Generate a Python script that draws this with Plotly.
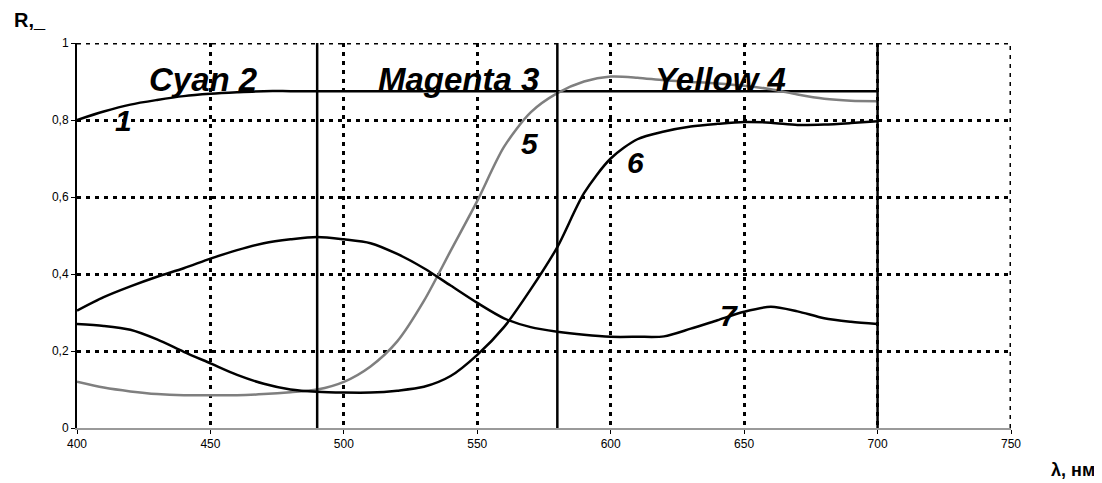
import plotly.graph_objects as go

wavelength = [400, 410, 420, 430, 440, 450, 460, 470, 480, 490, 500, 510, 520, 530, 540,
              550, 560, 570, 580, 590, 600, 610, 620, 630, 640, 650, 660, 670, 680, 690, 700]

curve1 = [0.800, 0.822, 0.840, 0.852, 0.862, 0.868, 0.872, 0.875, 0.875, 0.875, 0.875, 0.875,
          0.875, 0.875, 0.875, 0.875, 0.875, 0.875, 0.875, 0.875, 0.875, 0.875, 0.875, 0.875,
          0.875, 0.875, 0.875, 0.875, 0.875, 0.875, 0.875]
curve5 = [0.120, 0.105, 0.095, 0.088, 0.085, 0.085, 0.085, 0.088, 0.093, 0.100, 0.120, 0.160,
          0.225, 0.330, 0.460, 0.590, 0.730, 0.820, 0.870, 0.900, 0.913, 0.910, 0.903, 0.899,
          0.895, 0.889, 0.880, 0.866, 0.855, 0.850, 0.849]
curve6 = [0.270, 0.265, 0.255, 0.230, 0.198, 0.168, 0.138, 0.115, 0.100, 0.094, 0.092, 0.092,
          0.097, 0.107, 0.135, 0.190, 0.262, 0.360, 0.470, 0.610, 0.700, 0.750, 0.770, 0.783,
          0.790, 0.795, 0.793, 0.787, 0.788, 0.792, 0.797]
curve7 = [0.305, 0.340, 0.368, 0.393, 0.415, 0.440, 0.462, 0.480, 0.490, 0.496, 0.490, 0.480,
          0.452, 0.415, 0.370, 0.325, 0.285, 0.262, 0.250, 0.242, 0.237, 0.237, 0.238, 0.258,
          0.280, 0.302, 0.315, 0.303, 0.285, 0.276, 0.270]

band_edges = [490, 580, 700]
band_labels = ["Cyan 2", "Magenta 3", "Yellow 4"]
curve_labels = ["1", "5", "6", "7"]

x_ticks = [400, 450, 500, 550, 600, 650, 700, 750]
y_ticks = [0, 0.2, 0.4, 0.6, 0.8, 1.0]
y_tick_text = ["0", "0,2", "0,4", "0,6", "0,8", "1"]

FONT = "Liberation Sans, Arial, sans-serif"
GRID_DASH = "4px,5px"

fig = go.Figure()

# dotted grid lines on the outer edges (top and right), which plotly omits at range edges
fig.add_shape(type="line", x0=x_ticks[0], x1=x_ticks[-1], y0=y_ticks[-1], y1=y_ticks[-1],
              xref="x", yref="y", line=dict(color="black", width=3, dash=GRID_DASH), layer="below")
fig.add_shape(type="line", x0=x_ticks[-1], x1=x_ticks[-1], y0=y_ticks[0], y1=y_ticks[-1],
              xref="x", yref="y", line=dict(color="black", width=3, dash=GRID_DASH), layer="below")

series = [(curve1, "black"), (curve5, "#7f7f7f"), (curve6, "black"), (curve7, "black")]
for vals, col in series:
    fig.add_trace(go.Scatter(x=wavelength, y=vals, mode="lines",
                             line=dict(color=col, width=2.5, shape="spline", smoothing=0.8),
                             showlegend=False, hoverinfo="skip", cliponaxis=False))

for xe in band_edges:
    fig.add_shape(type="line", x0=xe, x1=xe, y0=0, y1=1, xref="x", yref="y",
                  line=dict(color="black", width=2.5), layer="above")

band_pos = [(447.5, 0.905), (543, 0.905), (641, 0.905)]
for (px, py), t in zip(band_pos, band_labels):
    fig.add_annotation(x=px, y=py, text="<b><i>%s</i></b>" % t, showarrow=False,
                       font=dict(family=FONT, size=33, color="black"),
                       xanchor="center", yanchor="middle")

curve_pos = [(417.6, 0.800), (569.7, 0.740), (609.4, 0.690), (644.3, 0.292)]
for (px, py), t in zip(curve_pos, curve_labels):
    fig.add_annotation(x=px, y=py, text="<b><i>%s</i></b>" % t, showarrow=False,
                       font=dict(family=FONT, size=30, color="black"),
                       xanchor="center", yanchor="middle")

fig.add_annotation(x=-0.07, y=1.06, xref="paper", yref="paper", text="<b>R,_</b>",
                   showarrow=False, xanchor="left", yanchor="middle",
                   font=dict(family=FONT, size=20, color="black"))
fig.add_annotation(x=1.092, y=-0.11, xref="paper", yref="paper", text="<b>λ, нм</b>",
                   showarrow=False, xanchor="right", yanchor="middle",
                   font=dict(family=FONT, size=18, color="black"))

# page body has an 8px margin, so the figure is reduced by 8px and margins shifted
fig.update_layout(
    width=1094, height=475,
    margin=dict(l=69, r=91, t=35, b=55, autoexpand=False),
    plot_bgcolor="white", paper_bgcolor="white",
    font=dict(family=FONT, size=12, color="black"),
    xaxis=dict(range=[400, 750], tickvals=x_ticks, ticktext=[str(v) for v in x_ticks],
               showgrid=True, gridcolor="black", gridwidth=3, griddash=GRID_DASH,
               showline=True, linecolor="#9a9a9a", linewidth=2,
               ticks="outside", ticklen=4, tickcolor="black", tickwidth=1,
               zeroline=False, tickfont=dict(size=12)),
    yaxis=dict(range=[0, 1], tickvals=y_ticks, ticktext=y_tick_text,
               showgrid=True, gridcolor="black", gridwidth=3, griddash=GRID_DASH,
               showline=True, linecolor="black", linewidth=2,
               ticks="outside", ticklen=4, tickcolor="black", tickwidth=1,
               zeroline=False, tickfont=dict(size=12)),
)

fig.write_html("out.html")
